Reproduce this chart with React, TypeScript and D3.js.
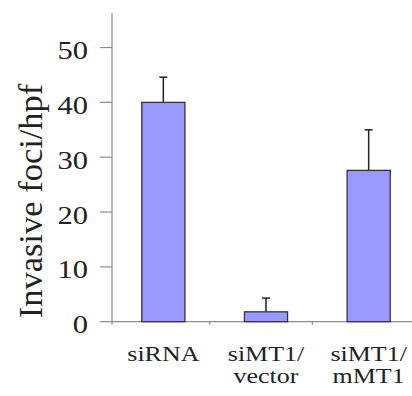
import React from "react";
import * as d3 from "d3";

const categories = ["siRNA", "siMT1/\nvector", "siMT1/\nmMT1"];
const means = [40, 1.8, 27.6];
const errors = [4.6, 2.5, 7.4];
const yTicks = [0, 10, 20, 30, 40, 50];
const yLabel = "Invasive foci/hpf";

const W = 412;
const H = 396;
const font = "Liberation Serif";
const axisColor = "#8c8c8c";

const App = () => {
  const x = d3.scaleBand<string>().domain(categories).range([112, 420]).paddingInner(0.58).paddingOuter(0.29);
  const band = d3.scaleBand<string>().domain(categories).range([112, 420]);
  const y = d3.scaleLinear().domain([0, 56.3]).range([321.7, 13]);

  return (
    <svg width={W} height={H} style={{ position: "absolute", left: 0, top: 0, fontFamily: font }}>
      <rect width={W} height={H} fill="#fff" />
      {/* y axis */}
      <line x1={112} x2={112} y1={y(56.3)} y2={y(0) + 3} stroke={axisColor} strokeWidth={1.2} />
      {yTicks.map((t) => (
        <g key={t}>
          <line x1={100} x2={112} y1={y(t)} y2={y(t)} stroke={axisColor} strokeWidth={1.2} />
          <text
            transform={`translate(88,${y(t) + 11.5}) scale(1.22,1)`}
            textAnchor="end"
            fontSize={25}
            fill="#222"
          >
            {t}
          </text>
        </g>
      ))}
      {/* x axis */}
      <line x1={112} x2={W} y1={y(0)} y2={y(0)} stroke={axisColor} strokeWidth={1.2} />
      {categories.slice(1).map((c) => (
        <line
          key={c}
          x1={band(c)! - 5}
          x2={band(c)! - 5}
          y1={y(0)}
          y2={y(0) + 3}
          stroke={axisColor}
          strokeWidth={1.2}
        />
      ))}
      {/* bars */}
      {categories.map((c, i) => {
        const cx = x(c)! + x.bandwidth() / 2;
        return (
          <g key={c}>
            <line x1={cx} x2={cx} y1={y(means[i])} y2={y(means[i] + errors[i])} stroke="#222" strokeWidth={1.5} />
            <line x1={cx - 4} x2={cx + 4} y1={y(means[i] + errors[i])} y2={y(means[i] + errors[i])} stroke="#222" strokeWidth={1.5} />
            <rect
              x={x(c)}
              y={y(means[i])}
              width={x.bandwidth()}
              height={y(0) - y(means[i])}
              fill="#9999ff"
              stroke="#333348"
              strokeWidth={1.3}
            />
          </g>
        );
      })}
      {/* category labels */}
      {categories.map((c) => {
        const cx = band(c)! + band.bandwidth() / 2;
        return c.split("\n").map((line, j) => (
          <text
            key={c + j}
            transform={`translate(${cx},${361 + j * 22}) scale(1.18,1)`}
            textAnchor="middle"
            fontSize={22}
            fill="#222"
          >
            {line}
          </text>
        ));
      })}
      {/* y label */}
      <text
        transform={`translate(42,201) rotate(-90)`}
        textAnchor="middle"
        fontSize={34.5}
        fill="#222"
      >
        {yLabel}
      </text>
    </svg>
  );
};

export default App;
